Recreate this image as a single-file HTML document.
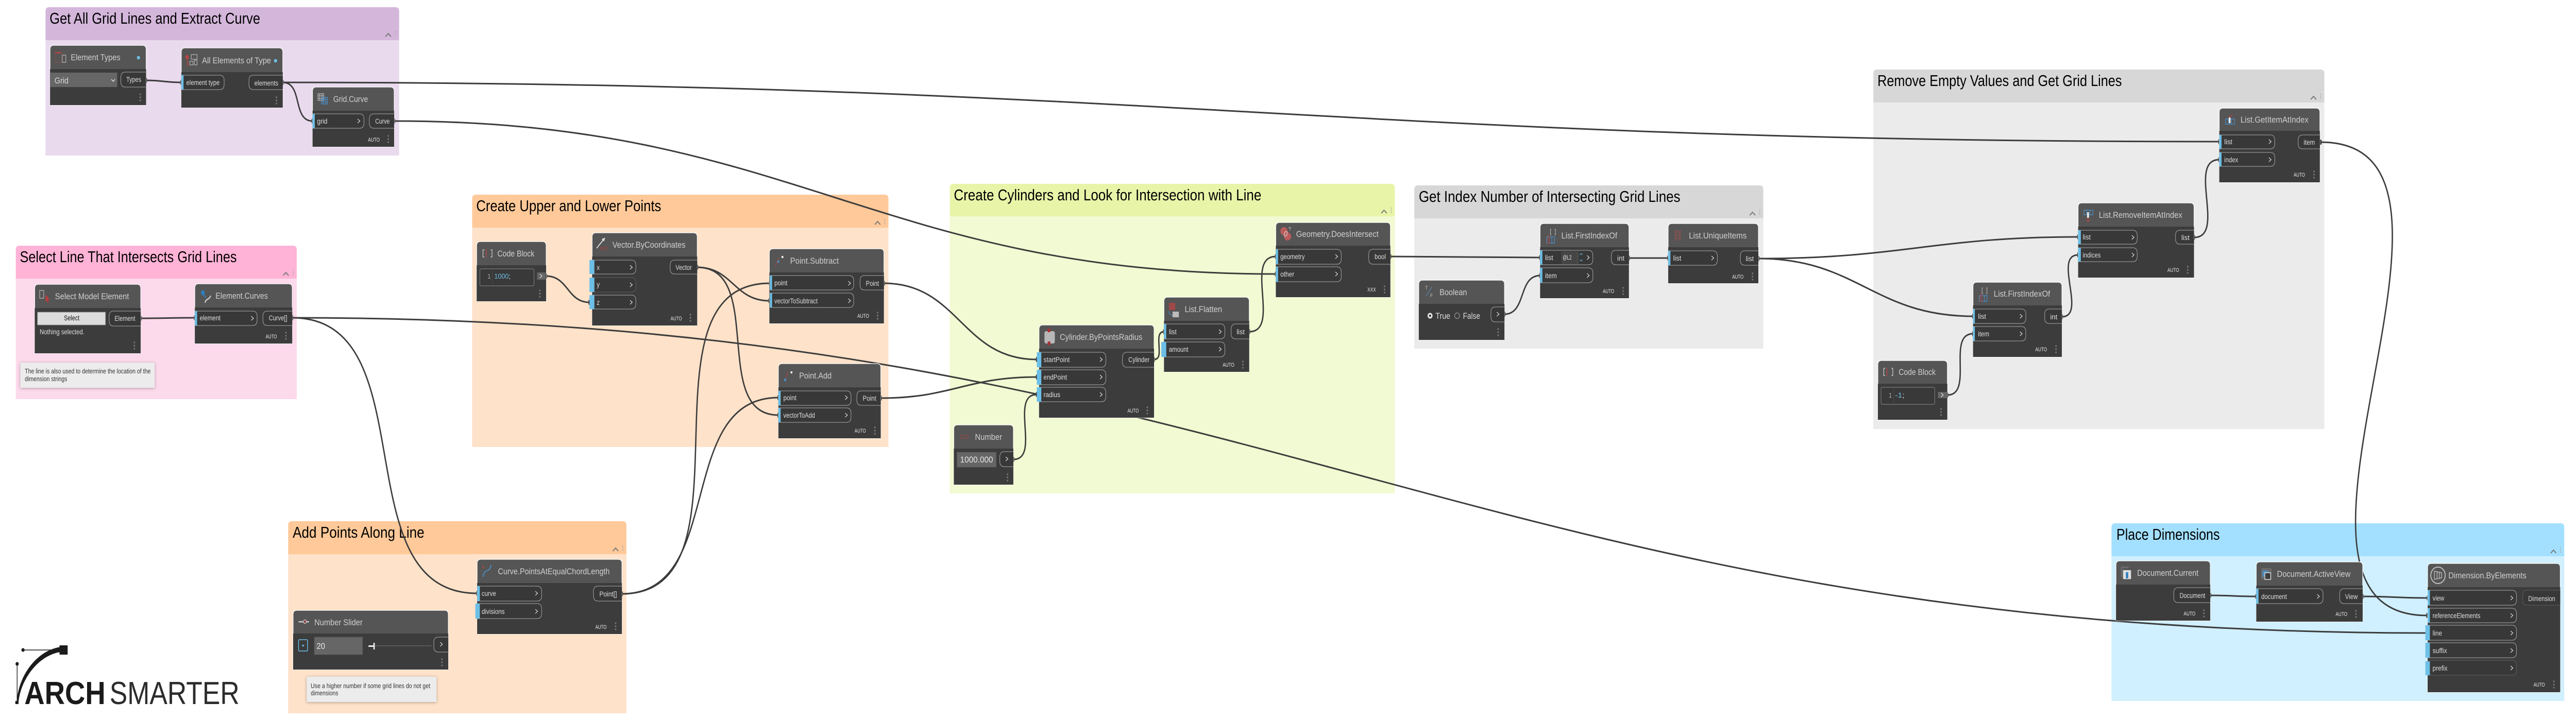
<!DOCTYPE html>
<html><head><meta charset="utf-8"><title>Dynamo graph</title>
<style>
html,body{margin:0;padding:0;background:#fff;width:100%;height:100%;overflow:hidden}
svg{display:block;width:100vw;height:100vh}
text{font-family:"Liberation Sans",sans-serif}
.gt{font-size:31px;fill:#000}
.t{font-size:17px;fill:#cfcfcf}
.l{font-size:13.5px;fill:#dedede}
.a{font-size:11px;fill:#e8e8e8}
.n{font-size:13px;fill:#333}
.h{fill:#555;stroke:#fff;stroke-width:1.2}
.b{fill:#3c3c3c}
.p{fill:#383838;stroke:#a8a8a8;stroke-width:1.1}
.q{fill:#383838;stroke:#5e5e5e;stroke-width:1.1}
.u{fill:#6cbfe6}
.w{fill:none;stroke:#3c3c3c;stroke-width:3;marker-start:url(#m);marker-end:url(#m)}
.note{fill:#ececec;filter:drop-shadow(0 1px 3px rgba(0,0,0,.3))}
.i{fill:none;stroke:#bbb;stroke-width:1.2}
.r{fill:none;stroke:#a04848;stroke-width:1.4}
.e{fill:none;stroke:#4a90c8;stroke-width:1.3}
</style></head><body>
<svg viewBox="0 0 5712 1396" preserveAspectRatio="none" xmlns="http://www.w3.org/2000/svg">
<defs>
<marker id="m" markerUnits="userSpaceOnUse" markerWidth="8" markerHeight="12" refX="4" refY="6" orient="auto"><rect x="2" y="1" width="4" height="10" rx="2" fill="#3c3c3c"/></marker>
<g id="c"><polyline points="-6,5 0,-1 6,5" fill="none" stroke="#777" stroke-width="2"/><g fill="#aaa"><rect x="15" y="-6" width="2" height="2"/><rect x="15" y="-2" width="2" height="2"/><rect x="15" y="2" width="2" height="2"/></g></g>
<g id="d" fill="#777"><circle cx="0" cy="-6" r="1.7"/><circle cx="0" cy="0" r="1.7"/><circle cx="0" cy="6" r="1.7"/></g>
<polyline id="v" points="-3,-4 2,0 -3,4" fill="none" stroke="#ddd" stroke-width="1.3"/>
</defs>

<!-- groups -->
<path d="M101 78V22q0-8 8-8H877q8 0 8 8V78z" fill="#d4b6db"/><rect x="101" y="78" width="784" height="224" fill="#e9daee"/>
<path d="M35 541V485q0-8 8-8H650q8 0 8 8V541z" fill="#ffb3d6"/><rect x="35" y="541" width="623" height="234" fill="#fdd9ec"/>
<path d="M639 1076V1020q0-8 8-8H1381q8 0 8 8V1076z" fill="#ffc999"/><rect x="639" y="1076" width="750" height="309" fill="#fee2c9"/>
<path d="M1047 442V386q0-8 8-8H1962q8 0 8 8V442z" fill="#ffc999"/><rect x="1047" y="442" width="923" height="426" fill="#fee2c9"/>
<path d="M2106 420V365q0-8 8-8H3085q8 0 8 8V420z" fill="#e8f5a9"/><rect x="2106" y="420" width="987" height="538" fill="#f1fad2"/>
<path d="M3136 424V368q0-8 8-8H3902q8 0 8 8V424z" fill="#d7d7d7"/><rect x="3136" y="424" width="774" height="253" fill="#ebebeb"/>
<path d="M4154 199V143q0-8 8-8H5146q8 0 8 8V199z" fill="#d7d7d7"/><rect x="4154" y="199" width="1000" height="634" fill="#ebebeb"/>
<path d="M4682 1080V1024q0-8 8-8H5678q8 0 8 8V1080z" fill="#a3e0ff"/><rect x="4682" y="1080" width="1004" height="281" fill="#d0efff"/>
<use href="#c" x="861" y="66"/><use href="#c" x="634" y="530"/><use href="#c" x="1365" y="1065"/><use href="#c" x="1946" y="431"/><use href="#c" x="3069" y="409"/><use href="#c" x="3886" y="413"/><use href="#c" x="5130" y="188"/><use href="#c" x="5662" y="1069"/>
<text class="gt" x="110" y="46" textLength="467" lengthAdjust="spacingAndGlyphs">Get All Grid Lines and Extract Curve</text>
<text class="gt" x="44" y="509" textLength="481" lengthAdjust="spacingAndGlyphs">Select Line That Intersects Grid Lines</text>
<text class="gt" x="649" y="1044" textLength="292" lengthAdjust="spacingAndGlyphs">Add Points Along Line</text>
<text class="gt" x="1056" y="410" textLength="410" lengthAdjust="spacingAndGlyphs">Create Upper and Lower Points</text>
<text class="gt" x="2115" y="389" textLength="682" lengthAdjust="spacingAndGlyphs">Create Cylinders and Look for Intersection with Line</text>
<text class="gt" x="3146" y="392" textLength="580" lengthAdjust="spacingAndGlyphs">Get Index Number of Intersecting Grid Lines</text>
<text class="gt" x="4163" y="167" textLength="542" lengthAdjust="spacingAndGlyphs">Remove Empty Values and Get Grid Lines</text>
<text class="gt" x="4693" y="1048" textLength="229" lengthAdjust="spacingAndGlyphs">Place Dimensions</text>

<!-- wires -->
<path class="w" d="M324 156C359 156 367 160 402 160"/>
<path class="w" d="M627 160C672 160 648 235 693 235"/>
<path class="w" d="M627 160C2560 160 2988 275 4921 275"/>
<path class="w" d="M874 235C1764 235 1939 532 2829 532"/>
<path class="w" d="M312 618C366 618 378 617 432 617"/>
<path class="w" d="M648 617C951 617 755 1152 1058 1152"/>
<path class="w" d="M648 617C2796 617 3235 1229 5383 1229"/>
<path class="w" d="M2247 892C2308 892 2238 766 2299 766"/>
<path class="w" d="M1211 536C1260 536 1258 587 1307 587"/>
<path class="w" d="M1546 519C1624 519 1628 584 1706 584"/>
<path class="w" d="M1546 519C1698 519 1574 806 1726 806"/>
<path class="w" d="M1379 1153C1688 1153 1398 550 1707 550"/>
<path class="w" d="M1379 1153C1611 1153 1494 772 1726 772"/>
<path class="w" d="M1960 550C2126 550 2133 698 2299 698"/>
<path class="w" d="M1953 773C2110 773 2142 732 2299 732"/>
<path class="w" d="M2559 698C2585 698 2555 644 2581 644"/>
<path class="w" d="M2770 644C2841 644 2758 498 2829 498"/>
<path class="w" d="M3083 498C3232 498 3266 500 3415 500"/>
<path class="w" d="M3336 610C3385 610 3366 535 3415 535"/>
<path class="w" d="M3612 501H3699"/>
<path class="w" d="M3899 502C4219 502 4288 460 4608 460"/>
<path class="w" d="M3899 502C4119 502 4155 614 4375 614"/>
<path class="w" d="M4318 767C4377 767 4316 648 4375 648"/>
<path class="w" d="M4572 615C4628 615 4552 495 4608 495"/>
<path class="w" d="M4865 461C4937 461 4849 310 4921 310"/>
<path class="w" d="M5146 276C5573 276 4955 1195 5382 1195"/>
<path class="w" d="M4901 1156C4947 1156 4957 1158 5003 1158"/>
<path class="w" d="M5239 1158C5304 1158 5318 1161 5383 1161"/>

<!-- Element Types -->
<path class="h" d="M111 204V96q0-8 8-8H316q8 0 8 8V204z"/><rect class="b" x="111" y="134" width="213" height="70"/>
<text class="t" x="157" y="117" textLength="110" lengthAdjust="spacingAndGlyphs">Element Types</text>
<g><rect class="r" x="123" y="104" width="16" height="17" stroke-dasharray="2 2"/><rect x="122" y="101" width="14" height="2" fill="#b44"/><rect class="i" x="138" y="107" width="8" height="14"/></g>
<circle cx="307" cy="112" r="3.5" fill="#6cbfe6"/>
<rect x="111" y="141" width="149" height="28" fill="#666"/>
<text x="121" y="162" font-size="17" fill="#d8d8d8" textLength="31" lengthAdjust="spacingAndGlyphs">Grid</text>
<polyline points="247,154 251,158 255,154" fill="none" stroke="#eee" stroke-width="1.4"/>
<path class="p" d="M323 140H278q-10 0-10 10V159q0 10 10 10H323"/>
<text class="l" x="280" y="159" textLength="33" lengthAdjust="spacingAndGlyphs">Types</text>
<use href="#d" x="311" y="189"/>

<!-- All Elements of Type -->
<path class="h" d="M402 209V101q0-8 8-8H619q8 0 8 8V209z"/><rect class="b" x="402" y="140" width="225" height="69"/>
<text class="t" x="448" y="123" textLength="153" lengthAdjust="spacingAndGlyphs">All Elements of Type</text>
<g><circle cx="415" cy="111" r="4" fill="#b44"/><rect class="i" x="424" y="106" width="13" height="9"/><rect class="i" x="421" y="119" width="7" height="7"/><rect class="i" x="431" y="117" width="6" height="9"/><rect class="r" x="415" y="118" width="2" height="10"/></g>
<circle cx="611" cy="118" r="3.5" fill="#6cbfe6"/>
<path class="p" d="M402 146H487q10 0 10 10V164q0 10-10 10H402"/><rect class="u" x="402" y="146" width="5" height="28"/>
<text class="l" x="413" y="165" textLength="74" lengthAdjust="spacingAndGlyphs">element type</text>
<path class="p" d="M627 146H562q-10 0-10 10V164q0 10 10 10H627"/>
<text class="l" x="564" y="166" textLength="53" lengthAdjust="spacingAndGlyphs">elements</text>
<use href="#d" x="613" y="195"/>

<!-- Grid.Curve -->
<path class="h" d="M693 285V177q0-8 8-8H866q8 0 8 8V285z"/><rect class="b" x="693" y="215" width="181" height="70"/>
<text class="t" x="739" y="198" textLength="77" lengthAdjust="spacingAndGlyphs">Grid.Curve</text>
<g><rect class="i" x="705" y="182" width="13" height="13"/><path class="i" d="M709 182v13M714 182v13M705 186h13M705 191h13"/><rect class="e" x="713" y="189" width="13" height="13"/><path class="e" d="M717 189v13M722 189v13M713 193h13M713 198h13"/></g>
<path class="p" d="M693 221H797q10 0 10 10V239q0 10-10 10H693"/><rect class="u" x="693" y="221" width="5" height="28"/>
<text class="l" x="703" y="240" textLength="23" lengthAdjust="spacingAndGlyphs">grid</text><use href="#v" x="796" y="235"/>
<path class="p" d="M874 221H829q-10 0-10 10V239q0 10 10 10H874"/>
<text class="l" x="832" y="240" textLength="32" lengthAdjust="spacingAndGlyphs">Curve</text>
<text class="a" x="816" y="275" textLength="26" lengthAdjust="spacingAndGlyphs">AUTO</text><use href="#d" x="861" y="270"/>

<!-- Select Model Element -->
<path class="h" d="M77 686V560q0-8 8-8H304q8 0 8 8V686z"/><rect class="b" x="77" y="598" width="235" height="88"/>
<text class="t" x="122" y="581" textLength="164" lengthAdjust="spacingAndGlyphs">Select Model Element</text>
<g><rect class="i" x="88" y="564" width="9" height="15"/><path d="M101 572l9 9-4 1 2 5-2 1-3-5-2 2z" fill="#c03c3c"/></g>
<rect x="83" y="606" width="151" height="25" fill="#dcdcdc" stroke="#888" stroke-width="1"/>
<text x="142" y="622" font-size="14" fill="#111" textLength="34" lengthAdjust="spacingAndGlyphs">Select</text>
<path class="p" d="M312 604H252q-10 0-10 10V623q0 10 10 10H312"/>
<text class="l" x="254" y="623" textLength="46" lengthAdjust="spacingAndGlyphs">Element</text>
<text class="l" x="88" y="649" textLength="99" lengthAdjust="spacingAndGlyphs">Nothing selected.</text>
<use href="#d" x="298" y="671"/>

<!-- Element.Curves -->
<path class="h" d="M432 667V559q0-8 8-8H640q8 0 8 8V667z"/><rect class="b" x="432" y="597" width="216" height="70"/>
<text class="t" x="478" y="580" textLength="116" lengthAdjust="spacingAndGlyphs">Element.Curves</text>
<g fill="none" stroke-width="2.5"><path d="M446 566c2 8 8 6 10 12" stroke="#2d7fc1"/><path d="M455 588c0-8 10-6 12-14" stroke="#ccc"/></g><circle cx="450" cy="568" r="4" fill="#2d7fc1"/>
<path class="p" d="M432 604H560q10 0 10 10V622q0 10-10 10H432"/><rect class="u" x="432" y="604" width="5" height="28"/>
<text class="l" x="443" y="622" textLength="46" lengthAdjust="spacingAndGlyphs">element</text><use href="#v" x="560" y="618"/>
<path class="p" d="M648 604H593q-10 0-10 10V622q0 10 10 10H648"/>
<text class="l" x="596" y="622" textLength="41" lengthAdjust="spacingAndGlyphs">Curve[]</text>
<text class="a" x="589" y="657" textLength="25" lengthAdjust="spacingAndGlyphs">AUTO</text><use href="#d" x="634" y="652"/>
<rect class="note" x="45" y="704" width="298" height="49"/>
<text class="n" x="55" y="725" textLength="279" lengthAdjust="spacingAndGlyphs">The line is also used to determine the location of the</text>
<text class="n" x="55" y="740" textLength="94" lengthAdjust="spacingAndGlyphs">dimension strings</text>

<!-- Curve.PointsAtEqualChordLength -->
<path class="h" d="M1058 1231V1094q0-8 8-8H1371q8 0 8 8V1231z"/><rect class="b" x="1058" y="1132" width="321" height="99"/>
<text class="t" x="1104" y="1115" textLength="248" lengthAdjust="spacingAndGlyphs">Curve.PointsAtEqualChordLength</text>
<g fill="none" stroke-width="2"><path d="M1071 1120c2-8 4-10 8-12" stroke="#4a90c8"/><path d="M1080 1108c6-2 8-6 9-11" stroke="#4a90c8"/><path d="M1072 1098v6" stroke="#b44"/></g>
<path class="p" d="M1058 1138H1191q10 0 10 10V1157q0 10-10 10H1058"/><rect class="u" x="1058" y="1138" width="6" height="29"/>
<text class="l" x="1068" y="1157" textLength="32" lengthAdjust="spacingAndGlyphs">curve</text><use href="#v" x="1190" y="1152"/>
<path class="p" d="M1058 1172H1191q10 0 10 10V1191q0 10-10 10H1058"/><rect class="u" x="1054" y="1172" width="10" height="29"/>
<text class="l" x="1068" y="1192" textLength="51" lengthAdjust="spacingAndGlyphs">divisions</text><use href="#v" x="1190" y="1187"/>
<path class="p" d="M1379 1138H1326q-10 0-10 10V1157q0 10 10 10H1379"/>
<text class="l" x="1329" y="1158" textLength="39" lengthAdjust="spacingAndGlyphs">Point[]</text>
<text class="a" x="1320" y="1221" textLength="25" lengthAdjust="spacingAndGlyphs">AUTO</text><use href="#d" x="1365" y="1216"/>

<!-- Number Slider -->
<path class="h" d="M650 1300V1193q0-8 8-8H986q8 0 8 8V1300z"/><rect class="b" x="650" y="1230" width="344" height="70"/>
<text class="t" x="697" y="1214" textLength="107" lengthAdjust="spacingAndGlyphs">Number Slider</text>
<rect x="662" y="1206" width="23" height="2.5" fill="#ccc"/><circle cx="676" cy="1207" r="3.5" fill="#8a4a4a" stroke="#ddd"/>
<rect x="662" y="1242" width="20" height="22" rx="2" fill="#3c3c3c" stroke="#6cbfe6" stroke-width="1.6"/><path d="M669 1252h6l-3 4z" fill="#6cbfe6"/>
<rect x="697" y="1237" width="107" height="34" fill="#666" stroke="#555"/>
<text x="702" y="1260" font-size="17" fill="#e8e8e8">20</text>
<rect x="819" y="1253" width="138" height="2" fill="#5a5a5a"/><rect x="817" y="1253" width="14" height="3" fill="#eee"/><rect x="828" y="1248" width="3" height="13" fill="#eee"/>
<path class="p" d="M994 1237H972q-10 0-10 10V1256q0 10 10 10H994"/><use href="#v" x="979" y="1251"/>
<use href="#d" x="980" y="1286"/>
<rect class="note" x="680" y="1314" width="288" height="49"/>
<text class="n" x="689" y="1336" textLength="265" lengthAdjust="spacingAndGlyphs">Use a higher number if some grid lines do not get</text>
<text class="n" x="689" y="1350" textLength="61" lengthAdjust="spacingAndGlyphs">dimensions</text>

<!-- Code Block 1 -->
<path class="h" d="M1057 585V477q0-8 8-8H1203q8 0 8 8V585z"/><rect class="b" x="1057" y="515" width="154" height="70"/>
<text class="t" x="1103" y="498" textLength="82" lengthAdjust="spacingAndGlyphs">Code Block</text>
<path d="M1074 485h-3v14h3M1088 485h3v14h-3" fill="none" stroke="#ccc" stroke-width="1.4"/><path d="M1078 484v16" stroke="#b44" stroke-width="1.6"/>
<rect x="1064" y="522" width="120" height="33" rx="3" fill="#393939" stroke="#8a8a8a"/>
<text x="1081" y="541" font-size="13" fill="#aaa">1</text><path d="M1092 527v27" stroke="#777" stroke-dasharray="1 2"/>
<text x="1096" y="541" font-size="13.5" textLength="36" lengthAdjust="spacingAndGlyphs" fill="#6cbfe6">1000<tspan fill="#ddd">;</tspan></text>
<rect x="1191" y="529" width="19" height="14" fill="#666"/><use href="#v" x="1200" y="536"/>
<use href="#d" x="1197" y="570"/>

<!-- Vector.ByCoordinates -->
<path class="h" d="M1313 632V460q0-8 8-8H1538q8 0 8 8V632z"/><rect class="b" x="1313" y="498" width="233" height="134"/>
<text class="t" x="1358" y="481" textLength="162" lengthAdjust="spacingAndGlyphs">Vector.ByCoordinates</text>
<path d="M1323 482l18-20" stroke="#ddd" stroke-width="2"/><path d="M1342 462l-8 2 5 5z" fill="#ddd"/>
<text x="1330" y="486" font-size="10" font-weight="bold" fill="#9a4343" textLength="17" lengthAdjust="spacingAndGlyphs">XYZ</text>
<path class="p" d="M1313 505H1400q10 0 10 10V522q0 10-10 10H1313"/><rect class="u" x="1307" y="505" width="11" height="27"/>
<text class="l" x="1323" y="524">x</text><use href="#v" x="1400" y="519"/>
<path class="q" d="M1313 539H1400q10 0 10 10V557q0 10-10 10H1313"/><rect class="u" x="1307" y="539" width="11" height="28"/>
<text class="l" x="1323" y="557">y</text><use href="#v" x="1400" y="553"/>
<path class="p" d="M1313 573H1400q10 0 10 10V590q0 10-10 10H1313"/><rect class="u" x="1307" y="573" width="11" height="27"/>
<text class="l" x="1323" y="592">z</text><use href="#v" x="1400" y="587"/>
<path class="p" d="M1546 505H1496q-10 0-10 10V522q0 10 10 10H1546"/>
<text class="l" x="1498" y="524" textLength="36" lengthAdjust="spacingAndGlyphs">Vector</text>
<text class="a" x="1487" y="622" textLength="25" lengthAdjust="spacingAndGlyphs">AUTO</text><use href="#d" x="1531" y="617"/>

<!-- Point.Subtract -->
<path class="h" d="M1706 628V491q0-8 8-8H1952q8 0 8 8V628z"/><rect class="b" x="1706" y="529" width="254" height="99"/>
<text class="t" x="1752" y="512" textLength="108" lengthAdjust="spacingAndGlyphs">Point.Subtract</text>
<path d="M1719 517l8-16" stroke="#a04848" stroke-width="1.6"/><rect x="1724" y="506" width="4" height="4" fill="#4a90c8"/><rect x="1733" y="497" width="4" height="4" fill="#eee"/>
<path class="p" d="M1707 535H1883q10 0 10 10V553q0 10-10 10H1707"/><rect class="u" x="1707" y="535" width="5" height="28"/>
<text class="l" x="1717" y="554" textLength="29" lengthAdjust="spacingAndGlyphs">point</text><use href="#v" x="1884" y="550"/>
<path class="p" d="M1707 569H1883q10 0 10 10V587q0 10-10 10H1707"/><rect class="u" x="1707" y="569" width="5" height="28"/>
<text class="l" x="1717" y="589" textLength="96" lengthAdjust="spacingAndGlyphs">vectorToSubtract</text><use href="#v" x="1884" y="584"/>
<path class="p" d="M1960 535H1917q-10 0-10 10V553q0 10 10 10H1960"/>
<text class="l" x="1920" y="555" textLength="29" lengthAdjust="spacingAndGlyphs">Point</text>
<text class="a" x="1901" y="617" textLength="26" lengthAdjust="spacingAndGlyphs">AUTO</text><use href="#d" x="1946" y="613"/>

<!-- Point.Add -->
<path class="h" d="M1726 851V714q0-8 8-8H1945q8 0 8 8V851z"/><rect class="b" x="1726" y="752" width="227" height="99"/>
<text class="t" x="1772" y="735" textLength="72" lengthAdjust="spacingAndGlyphs">Point.Add</text>
<path d="M1740 738l8-16" stroke="#a04848" stroke-width="1.6"/><rect x="1739" y="735" width="4" height="5" fill="#4a90c8"/><rect x="1753" y="721" width="4" height="4" fill="#eee"/>
<path class="p" d="M1726 759H1877q10 0 10 10V777q0 10-10 10H1726"/><rect class="u" x="1726" y="759" width="5" height="28"/>
<text class="l" x="1737" y="777" textLength="29" lengthAdjust="spacingAndGlyphs">point</text><use href="#v" x="1877" y="772"/>
<path class="p" d="M1726 792H1877q10 0 10 10V810q0 10-10 10H1726"/><rect class="u" x="1726" y="792" width="5" height="28"/>
<text class="l" x="1737" y="811" textLength="70" lengthAdjust="spacingAndGlyphs">vectorToAdd</text><use href="#v" x="1877" y="806"/>
<path class="p" d="M1953 759H1910q-10 0-10 10V777q0 10 10 10H1953"/>
<text class="l" x="1913" y="778" textLength="30" lengthAdjust="spacingAndGlyphs">Point</text>
<text class="a" x="1895" y="840" textLength="25" lengthAdjust="spacingAndGlyphs">AUTO</text><use href="#d" x="1940" y="836"/>

<!-- Geometry.DoesIntersect -->
<path class="h" d="M2829 577V440q0-8 8-8H3075q8 0 8 8V577z"/><rect class="b" x="2829" y="477" width="254" height="100"/>
<text class="t" x="2874" y="460" textLength="183" lengthAdjust="spacingAndGlyphs">Geometry.DoesIntersect</text>
<circle cx="2847" cy="449" r="8" fill="#b85c5c"/><circle cx="2855" cy="459" r="8" fill="#b85c5c"/><ellipse cx="2851" cy="454" rx="3" ry="5" fill="none" stroke="#eee" transform="rotate(25 2851 454)"/><text x="2857" y="448" font-size="10" fill="#ddd">?</text>
<path class="p" d="M2829 484H2964q10 0 10 10V503q0 10-10 10H2829"/><rect class="u" x="2829" y="484" width="5" height="29"/>
<text class="l" x="2839" y="503" textLength="54" lengthAdjust="spacingAndGlyphs">geometry</text><use href="#v" x="2964" y="498"/>
<path class="p" d="M2829 518H2964q10 0 10 10V537q0 10-10 10H2829"/><rect class="u" x="2829" y="518" width="5" height="29"/>
<text class="l" x="2839" y="537" textLength="31" lengthAdjust="spacingAndGlyphs">other</text><use href="#v" x="2964" y="532"/>
<path class="p" d="M3083 484H3045q-10 0-10 10V503q0 10 10 10H3083"/>
<text class="l" x="3048" y="503" textLength="25" lengthAdjust="spacingAndGlyphs">bool</text>
<text class="a" x="3032" y="566" textLength="19" lengthAdjust="spacingAndGlyphs">XXX</text><use href="#d" x="3070" y="562"/>

<!-- List.Flatten -->
<path class="h" d="M2581 722V585q0-8 8-8H2762q8 0 8 8V722z"/><rect class="b" x="2581" y="623" width="189" height="99"/>
<text class="t" x="2627" y="606" textLength="83" lengthAdjust="spacingAndGlyphs">List.Flatten</text>
<rect x="2592" y="588" width="14" height="14" fill="#a04848"/><rect x="2600" y="605" width="14" height="11" fill="#bbb"/><path class="e" d="M2592 604c0 6 3 8 8 8"/>
<path class="p" d="M2581 629H2706q10 0 10 10V648q0 10-10 10H2581"/><rect class="u" x="2581" y="629" width="5" height="29"/>
<text class="l" x="2592" y="649" textLength="17" lengthAdjust="spacingAndGlyphs">list</text><use href="#v" x="2706" y="644"/>
<path class="p" d="M2581 664H2706q10 0 10 10V683q0 10-10 10H2581"/><rect class="u" x="2575" y="664" width="11" height="29"/>
<text class="l" x="2592" y="683" textLength="43" lengthAdjust="spacingAndGlyphs">amount</text><use href="#v" x="2706" y="678"/>
<path class="p" d="M2770 629H2740q-10 0-10 10V648q0 10 10 10H2770"/>
<text class="l" x="2742" y="649" textLength="18" lengthAdjust="spacingAndGlyphs">list</text>
<text class="a" x="2711" y="712" textLength="26" lengthAdjust="spacingAndGlyphs">AUTO</text><use href="#d" x="2756" y="708"/>

<!-- Cylinder.ByPointsRadius -->
<path class="h" d="M2304 811V639q0-8 8-8H2551q8 0 8 8V811z"/><rect class="b" x="2304" y="677" width="255" height="134"/>
<text class="t" x="2350" y="660" textLength="183" lengthAdjust="spacingAndGlyphs">Cylinder.ByPointsRadius</text>
<rect x="2316" y="643" width="23" height="24" rx="4" fill="#b8b8b8"/><rect x="2323" y="638" width="6" height="7" fill="#a33"/><rect x="2323" y="663" width="6" height="7" fill="#a33"/>
<path class="p" d="M2304 684H2442q10 0 10 10V703q0 10-10 10H2304"/><rect class="u" x="2299" y="684" width="10" height="29"/>
<text class="l" x="2314" y="703" textLength="58" lengthAdjust="spacingAndGlyphs">startPoint</text><use href="#v" x="2442" y="698"/>
<path class="p" d="M2304 718H2442q10 0 10 10V737q0 10-10 10H2304"/><rect class="u" x="2299" y="718" width="10" height="29"/>
<text class="l" x="2314" y="737" textLength="52" lengthAdjust="spacingAndGlyphs">endPoint</text><use href="#v" x="2442" y="732"/>
<path class="p" d="M2304 752H2442q10 0 10 10V770q0 10-10 10H2304"/><rect class="u" x="2299" y="752" width="10" height="28"/>
<text class="l" x="2314" y="771" textLength="37" lengthAdjust="spacingAndGlyphs">radius</text><use href="#v" x="2442" y="766"/>
<path class="p" d="M2559 684H2499q-10 0-10 10V703q0 10 10 10H2559"/>
<text class="l" x="2502" y="703" textLength="47" lengthAdjust="spacingAndGlyphs">Cylinder</text>
<text class="a" x="2500" y="801" textLength="25" lengthAdjust="spacingAndGlyphs">AUTO</text><use href="#d" x="2544" y="797"/>

<!-- Number -->
<path class="h" d="M2115 941V833q0-8 8-8H2239q8 0 8 8V941z"/><rect class="b" x="2115" y="871" width="132" height="70"/>
<text class="t" x="2162" y="854" textLength="60" lengthAdjust="spacingAndGlyphs">Number</text>
<text x="2128" y="852" font-size="12" fill="#a04848" textLength="20" lengthAdjust="spacingAndGlyphs">123</text>
<rect x="2122" y="878" width="87" height="29" fill="#666" stroke="#555"/>
<text x="2129" y="898" font-size="17" fill="#e8e8e8" textLength="73" lengthAdjust="spacingAndGlyphs">1000.000</text>
<path class="p" d="M2247 877H2227q-10 0-10 10V896q0 10 10 10H2247"/><use href="#v" x="2233" y="891"/>
<use href="#d" x="2234" y="927"/>

<!-- List.FirstIndexOf -->
<path class="h" d="M3415 579V442q0-8 8-8H3604q8 0 8 8V579z"/><rect class="b" x="3415" y="480" width="197" height="99"/>
<text class="t" x="3462" y="463" textLength="124" lengthAdjust="spacingAndGlyphs">List.FirstIndexOf</text>
<path d="M3440 445h-2v11h2M3447 445h2v11h-2" fill="none" stroke="#ccc"/><rect class="e" x="3430" y="460" width="17" height="12"/><path class="e" d="M3436 460v12M3441 460v12"/><rect class="r" x="3432" y="458" width="4" height="14"/>
<path class="p" d="M3415 486H3522q10 0 10 10V504q0 10-10 10H3415"/><rect class="u" x="3415" y="486" width="5" height="28"/>
<text class="l" x="3426" y="505" textLength="18" lengthAdjust="spacingAndGlyphs">list</text>
<rect x="3462" y="488" width="37" height="25" fill="#454545"/><text x="3465" y="504" font-size="12" fill="#e8e8e8" textLength="20" lengthAdjust="spacingAndGlyphs">@L2</text>
<path d="M3499 489v24" stroke="#666"/><polyline points="3503,495 3506,492 3509,495" fill="none" stroke="#6cbfe6"/><polyline points="3503,504 3506,507 3509,504" fill="none" stroke="#6cbfe6"/>
<use href="#v" x="3522" y="500"/>
<path class="p" d="M3415 520H3522q10 0 10 10V539q0 10-10 10H3415"/><rect class="u" x="3415" y="520" width="5" height="29"/>
<text class="l" x="3426" y="540" textLength="26" lengthAdjust="spacingAndGlyphs">item</text><use href="#v" x="3522" y="535"/>
<path class="p" d="M3612 486H3583q-10 0-10 10V504q0 10 10 10H3612"/>
<text class="l" x="3586" y="506" textLength="16" lengthAdjust="spacingAndGlyphs">int</text>
<text class="a" x="3554" y="569" textLength="25" lengthAdjust="spacingAndGlyphs">AUTO</text><use href="#d" x="3599" y="565"/>

<!-- List.UniqueItems -->
<path class="h" d="M3699 550V442q0-8 8-8H3891q8 0 8 8V550z"/><rect class="b" x="3699" y="480" width="200" height="70"/>
<text class="t" x="3745" y="463" textLength="128" lengthAdjust="spacingAndGlyphs">List.UniqueItems</text>
<g fill="none" stroke="#a05050" stroke-width="1.3"><circle cx="3716" cy="450" r="2.2"/><circle cx="3724" cy="450" r="2.2"/><circle cx="3716" cy="457" r="2.2"/><circle cx="3724" cy="457" r="2.2"/><circle cx="3716" cy="464" r="2.2"/><circle cx="3724" cy="464" r="2.2"/></g>
<path class="p" d="M3699 487H3798q10 0 10 10V505q0 10-10 10H3699"/><rect class="u" x="3699" y="487" width="5" height="28"/>
<text class="l" x="3710" y="506" textLength="18" lengthAdjust="spacingAndGlyphs">list</text><use href="#v" x="3798" y="501"/>
<path class="p" d="M3899 487H3869q-10 0-10 10V505q0 10 10 10H3899"/>
<text class="l" x="3871" y="507" textLength="18" lengthAdjust="spacingAndGlyphs">list</text>
<text class="a" x="3841" y="541" textLength="25" lengthAdjust="spacingAndGlyphs">AUTO</text><use href="#d" x="3886" y="537"/>

<!-- Boolean -->
<path class="h" d="M3146 660V552q0-8 8-8H3328q8 0 8 8V660z"/><rect class="b" x="3146" y="590" width="190" height="70"/>
<text class="t" x="3192" y="573" textLength="61" lengthAdjust="spacingAndGlyphs">Boolean</text>
<text x="3160" y="562" font-size="10" fill="#bbb">T</text><text x="3171" y="577" font-size="10" fill="#bbb">F</text><path d="M3162 575l13-18" stroke="#5a7fa5" stroke-width="1.5"/>
<circle cx="3171" cy="613" r="4" fill="#3c3c3c" stroke="#eee" stroke-width="3"/>
<text x="3183" y="619" font-size="17" fill="#ddd" textLength="33" lengthAdjust="spacingAndGlyphs">True</text>
<circle cx="3231" cy="613" r="5.5" fill="none" stroke="#aaa"/>
<text x="3244" y="619" font-size="17" fill="#ddd" textLength="38" lengthAdjust="spacingAndGlyphs">False</text>
<path class="p" d="M3336 596H3316q-10 0-10 10V615q0 10 10 10H3336"/><use href="#v" x="3322" y="610"/>
<use href="#d" x="3322" y="645"/>

<!-- List.GetItemAtIndex -->
<path class="h" d="M4921 354V218q0-8 8-8H5136q8 0 8 8V354z"/><rect class="b" x="4921" y="254" width="223" height="100"/>
<text class="t" x="4968" y="238" textLength="151" lengthAdjust="spacingAndGlyphs">List.GetItemAtIndex</text>
<rect class="e" x="4935" y="231" width="20" height="10"/><path class="e" d="M4941 231v10M4948 231v10"/><rect x="4942" y="228" width="4" height="11" fill="#eee"/><path d="M4942 225l3 3 5-6" fill="none" stroke="#b44" stroke-width="1.3"/>
<path class="p" d="M4921 262H5034q10 0 10 10V279q0 10-10 10H4921"/><rect class="u" x="4921" y="262" width="5" height="27"/>
<text class="l" x="4932" y="280" textLength="18" lengthAdjust="spacingAndGlyphs">list</text><use href="#v" x="5034" y="275"/>
<path class="p" d="M4921 296H5034q10 0 10 10V313q0 10-10 10H4921"/><rect class="u" x="4921" y="296" width="5" height="27"/>
<text class="l" x="4932" y="315" textLength="31" lengthAdjust="spacingAndGlyphs">index</text><use href="#v" x="5034" y="310"/>
<path class="p" d="M5144 262H5106q-10 0-10 10V279q0 10 10 10H5144"/>
<text class="l" x="5108" y="281" textLength="25" lengthAdjust="spacingAndGlyphs">item</text>
<text class="a" x="5086" y="343" textLength="25" lengthAdjust="spacingAndGlyphs">AUTO</text><use href="#d" x="5131" y="339"/>

<!-- List.RemoveItemAtIndex -->
<path class="h" d="M4608 539V402q0-8 8-8H4857q8 0 8 8V539z"/><rect class="b" x="4608" y="440" width="257" height="99"/>
<text class="t" x="4654" y="423" textLength="185" lengthAdjust="spacingAndGlyphs">List.RemoveItemAtIndex</text>
<rect class="e" x="4621" y="408" width="20" height="9"/><path class="e" d="M4627 408v9M4634 408v9"/><rect x="4628" y="412" width="4" height="11" fill="#eee"/><path d="M4627 425l6 6M4633 425l-6 6" stroke="#b44" stroke-width="1.3"/>
<path class="p" d="M4608 447H4729q10 0 10 10V464q0 10-10 10H4608"/><rect class="u" x="4608" y="447" width="6" height="27"/>
<text class="l" x="4618" y="465" textLength="18" lengthAdjust="spacingAndGlyphs">list</text><use href="#v" x="4730" y="461"/>
<path class="p" d="M4608 481H4729q10 0 10 10V498q0 10-10 10H4608"/><rect class="u" x="4608" y="481" width="6" height="27"/>
<text class="l" x="4618" y="500" textLength="40" lengthAdjust="spacingAndGlyphs">indices</text><use href="#v" x="4730" y="495"/>
<path class="p" d="M4865 447H4834q-10 0-10 10V464q0 10 10 10H4865"/>
<text class="l" x="4837" y="466" textLength="18" lengthAdjust="spacingAndGlyphs">list</text>
<text class="a" x="4806" y="528" textLength="26" lengthAdjust="spacingAndGlyphs">AUTO</text><use href="#d" x="4851" y="524"/>

<!-- List.FirstIndexOf 2 -->
<path class="h" d="M4375 693V556q0-8 8-8H4564q8 0 8 8V693z"/><rect class="b" x="4375" y="593" width="197" height="100"/>
<text class="t" x="4421" y="576" textLength="125" lengthAdjust="spacingAndGlyphs">List.FirstIndexOf</text>
<path d="M4397 559h-2v11h2M4404 559h2v11h-2" fill="none" stroke="#ccc"/><rect class="e" x="4389" y="574" width="17" height="11"/><path class="e" d="M4395 574v11M4400 574v11"/><rect class="r" x="4391" y="572" width="4" height="13"/>
<path class="p" d="M4375 600H4482q10 0 10 10V618q0 10-10 10H4375"/><rect class="u" x="4375" y="600" width="4" height="28"/>
<text class="l" x="4386" y="619" textLength="18" lengthAdjust="spacingAndGlyphs">list</text><use href="#v" x="4482" y="614"/>
<path class="p" d="M4375 634H4482q10 0 10 10V652q0 10-10 10H4375"/><rect class="u" x="4375" y="634" width="4" height="28"/>
<text class="l" x="4386" y="653" textLength="25" lengthAdjust="spacingAndGlyphs">item</text><use href="#v" x="4482" y="648"/>
<path class="p" d="M4572 600H4544q-10 0-10 10V618q0 10 10 10H4572"/>
<text class="l" x="4546" y="620" textLength="16" lengthAdjust="spacingAndGlyphs">int</text>
<text class="a" x="4513" y="682" textLength="26" lengthAdjust="spacingAndGlyphs">AUTO</text><use href="#d" x="4559" y="678"/>

<!-- Code Block 2 -->
<path class="h" d="M4164 815V708q0-8 8-8H4310q8 0 8 8V815z"/><rect class="b" x="4164" y="745" width="154" height="70"/>
<text class="t" x="4210" y="728" textLength="82" lengthAdjust="spacingAndGlyphs">Code Block</text>
<path d="M4180 715h-3v14h3M4194 715h3v14h-3" fill="none" stroke="#ccc" stroke-width="1.4"/><path d="M4184 714v16" stroke="#b44" stroke-width="1.6"/>
<rect x="4171" y="752" width="119" height="33" rx="3" fill="#393939" stroke="#8a8a8a"/>
<text x="4188" y="772" font-size="13" fill="#aaa">1</text><path d="M4199 756v26" stroke="#777" stroke-dasharray="1 2"/>
<text x="4202" y="772" font-size="13.5" fill="#6cbfe6" textLength="21" lengthAdjust="spacingAndGlyphs">-1<tspan fill="#ddd">;</tspan></text>
<rect x="4297" y="761" width="20" height="12" fill="#666"/><use href="#v" x="4307" y="767"/>
<use href="#d" x="4304" y="800"/>

<!-- Document.Current -->
<path class="h" d="M4692 1205V1097q0-8 8-8H4893q8 0 8 8V1205z"/><rect class="b" x="4692" y="1135" width="209" height="70"/>
<text class="t" x="4739" y="1118" textLength="136" lengthAdjust="spacingAndGlyphs">Document.Current</text>
<rect x="4703" y="1100" width="17" height="21" fill="#6a6a6a"/><rect x="4707" y="1104" width="19" height="21" fill="#ddd" stroke="#444"/><rect x="4707" y="1104" width="19" height="3" fill="#555"/><path d="M4714 1111h5v12h-5z" fill="#2d7fc1"/>
<path class="p" d="M4901 1141H4830q-10 0-10 10V1160q0 10 10 10H4901"/>
<text class="l" x="4833" y="1161" textLength="57" lengthAdjust="spacingAndGlyphs">Document</text>
<text class="a" x="4842" y="1195" textLength="26" lengthAdjust="spacingAndGlyphs">AUTO</text><use href="#d" x="4887" y="1191"/>

<!-- Document.ActiveView -->
<path class="h" d="M5003 1207V1099q0-8 8-8H5231q8 0 8 8V1207z"/><rect class="b" x="5003" y="1137" width="236" height="70"/>
<text class="t" x="5049" y="1120" textLength="163" lengthAdjust="spacingAndGlyphs">Document.ActiveView</text>
<rect x="5014" y="1103" width="23" height="22" fill="#6a6a6a"/><rect x="5017" y="1108" width="12" height="12" fill="#4a90c8"/><rect x="5022" y="1112" width="13" height="13" fill="#3c3c3c" stroke="#ddd" stroke-width="1.5"/>
<path class="p" d="M5003 1143H5141q10 0 10 10V1162q0 10-10 10H5003"/><rect class="u" x="5003" y="1143" width="5" height="29"/>
<text class="l" x="5014" y="1163" textLength="57" lengthAdjust="spacingAndGlyphs">document</text><use href="#v" x="5141" y="1158"/>
<path class="p" d="M5239 1143H5198q-10 0-10 10V1162q0 10 10 10H5239"/>
<text class="l" x="5200" y="1163" textLength="28" lengthAdjust="spacingAndGlyphs">View</text>
<text class="a" x="5179" y="1196" textLength="26" lengthAdjust="spacingAndGlyphs">AUTO</text><use href="#d" x="5224" y="1192"/>

<!-- Dimension.ByElements -->
<path class="h" d="M5383 1344V1102q0-8 8-8H5669q8 0 8 8V1344z"/><rect class="b" x="5383" y="1140" width="294" height="204"/>
<text class="t" x="5429" y="1123" textLength="173" lengthAdjust="spacingAndGlyphs">Dimension.ByElements</text>
<circle cx="5406" cy="1117" r="16" fill="none" stroke="#ccc" stroke-width="1.8"/><path d="M5398 1109l16 3v10l-16 3zM5404 1110v14M5409 1111v12" fill="none" stroke="#ccc" stroke-width="1.3"/>
<path class="p" d="M5383 1146H5570q10 0 10 10V1165q0 10-10 10H5383"/><rect class="u" x="5383" y="1146" width="5" height="29"/>
<text class="l" x="5394" y="1166" textLength="26" lengthAdjust="spacingAndGlyphs">view</text><use href="#v" x="5570" y="1161"/>
<path class="p" d="M5383 1181H5570q10 0 10 10V1199q0 10-10 10H5383"/><rect class="u" x="5383" y="1181" width="5" height="28"/>
<text class="l" x="5394" y="1200" textLength="106" lengthAdjust="spacingAndGlyphs">referenceElements</text><use href="#v" x="5570" y="1195"/>
<path class="p" d="M5383 1214H5570q10 0 10 10V1233q0 10-10 10H5383"/><rect class="u" x="5378" y="1214" width="10" height="29"/>
<text class="l" x="5394" y="1234" textLength="21" lengthAdjust="spacingAndGlyphs">line</text><use href="#v" x="5570" y="1229"/>
<path class="p" d="M5383 1248H5570q10 0 10 10V1267q0 10-10 10H5383"/><rect class="u" x="5378" y="1248" width="10" height="29"/>
<text class="l" x="5394" y="1268" textLength="32" lengthAdjust="spacingAndGlyphs">suffix</text><use href="#v" x="5570" y="1263"/>
<path class="q" d="M5383 1282H5570q10 0 10 10V1301q0 10-10 10H5383"/><rect class="u" x="5378" y="1284" width="10" height="27"/>
<text class="l" x="5394" y="1302" textLength="33" lengthAdjust="spacingAndGlyphs">prefix</text><use href="#v" x="5570" y="1297"/>
<path class="q" d="M5677 1146H5604q-10 0-10 10V1165q0 10 10 10H5677"/>
<text class="l" x="5606" y="1167" textLength="60" lengthAdjust="spacingAndGlyphs">Dimension</text>
<text class="a" x="5618" y="1333" textLength="25" lengthAdjust="spacingAndGlyphs">AUTO</text><use href="#d" x="5663" y="1329"/>

<!-- logo -->
<path d="M37 1364C40 1315 78 1264 134 1256V1266C86 1272 46 1318 41 1364Z" fill="#1c1c1c"/>
<rect x="132" y="1253" width="18" height="18" fill="#1c1c1c"/>
<path d="M51 1262H132M38 1289V1364" stroke="#1c1c1c" stroke-width="1.5"/>
<circle cx="51" cy="1262" r="3.6" fill="#1c1c1c"/><circle cx="38" cy="1289" r="3.6" fill="#1c1c1c"/>
<rect x="34" y="1361" width="7" height="6" fill="#1c1c1c"/>
<text x="54" y="1367" font-size="62" font-weight="bold" fill="#1a1a1a" textLength="180" lengthAdjust="spacingAndGlyphs">ARCH</text>
<text x="243" y="1367" font-size="62" fill="#2c2c2c" textLength="288" lengthAdjust="spacingAndGlyphs">SMARTER</text>
</svg>
</body></html>
